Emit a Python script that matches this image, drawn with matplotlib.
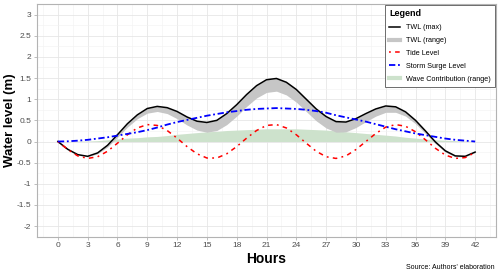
import matplotlib
matplotlib.use('Agg')
import matplotlib.pyplot as plt
from matplotlib.lines import Line2D
import numpy as np

plt.rcParams['font.family'] = ['Liberation Sans', 'DejaVu Sans']

# hourly values (m)
hours = list(range(0, 43))
tide = [0.00, -0.19, -0.34, -0.40, -0.36, -0.23, -0.04, 0.16, 0.32, 0.40,
        0.38, 0.26, 0.08, -0.12, -0.29, -0.39, -0.39, -0.29, -0.12, 0.08,
        0.26, 0.38, 0.40, 0.32, 0.16, -0.04, -0.23, -0.36, -0.40, -0.34,
        -0.19, 0.00, 0.19, 0.34, 0.40, 0.36, 0.23, 0.04, -0.16, -0.32,
        -0.40, -0.38, -0.26]
surge = [0.00, 0.005, 0.02, 0.04, 0.07, 0.10, 0.14, 0.18, 0.22, 0.27,
         0.33, 0.40, 0.46, 0.51, 0.56, 0.61, 0.65, 0.69, 0.72, 0.75,
         0.77, 0.78, 0.79, 0.78, 0.77, 0.75, 0.72, 0.68, 0.62, 0.57,
         0.52, 0.47, 0.41, 0.35, 0.29, 0.24, 0.19, 0.15, 0.11, 0.07,
         0.04, 0.02, 0.00]
wave_max = [0.00, 0.00, 0.01, 0.01, 0.02, 0.04, 0.06, 0.08, 0.09, 0.11,
            0.12, 0.14, 0.17, 0.19, 0.21, 0.23, 0.24, 0.26, 0.27, 0.28,
            0.29, 0.30, 0.30, 0.30, 0.30, 0.29, 0.28, 0.27, 0.25, 0.23,
            0.21, 0.19, 0.17, 0.15, 0.13, 0.10, 0.08, 0.06, 0.04, 0.03,
            0.02, 0.01, 0.01]
wave_min = [0.0] * 43

x_ticks = list(range(0, 43, 3))
y_ticks = [-2, -1.5, -1, -0.5, 0, 0.5, 1, 1.5, 2, 2.5, 3]
y_labels = ['-2', '-1.5', '-1', '-0.5', '0', '0.5', '1', '1.5', '2', '2.5', '3']

t = np.array(hours)
base = np.array(tide) + np.array(surge)
twl_min = base + np.array(wave_min)
twl_max = base + np.array(wave_max)

fig = plt.figure(figsize=(5, 2.77), dpi=100)
ax = fig.add_axes([0.074, 0.1455, 0.918, 0.84])

red_dash = (1.2, 2.8, 3, 2.8)
blue_dash = (3.5, 1.5, 1, 1.5)

ax.fill_between(t, wave_min, wave_max, color='#cde2cc', lw=0, zorder=2)
ax.fill_between(t, twl_min, twl_max, color='#c6c6c6', lw=0, zorder=3)
ax.plot(t, twl_max, color='black', lw=1.1, zorder=4)
ax.plot(t, tide, color='red', lw=1.1, dashes=red_dash, zorder=5)
ax.plot(t, surge, color='blue', lw=1.3, dashes=blue_dash, zorder=5)

ax.set_xlim(-2.1, 44.1)
ax.set_ylim(-2.25, 3.25)
ax.set_xticks(x_ticks)
ax.set_yticks(y_ticks)
ax.set_yticklabels(y_labels)
ax.set_xticks(np.arange(-1.5, 44, 1.5), minor=True)
ax.set_yticks(np.arange(-2.25, 3.3, 0.25), minor=True)
ax.grid(which='major', color='#e6e6e6', lw=0.6, zorder=0)
ax.grid(which='minor', color='#f2f2f2', lw=0.4, zorder=0)
ax.set_axisbelow(True)
ax.tick_params(which='major', length=2.5, width=0.6, color='#b3b3b3',
               labelsize=6, labelcolor='#4d4d4d', pad=1.5)
ax.tick_params(which='minor', length=0)
for s in ax.spines.values():
    s.set_color('#b3b3b3')
    s.set_linewidth(0.8)

ax.set_xlabel('Hours', fontsize=10, fontweight='bold', labelpad=2)
ax.set_ylabel('Water level (m)', fontsize=9.5, fontweight='bold')
ax.yaxis.set_label_coords(-0.046, 0.5)

handles = [
    Line2D([], [], color='black', lw=1.1),
    Line2D([], [], color='#c6c6c6', lw=3),
    Line2D([], [], color='red', lw=1.1, dashes=red_dash),
    Line2D([], [], color='blue', lw=1.3, dashes=blue_dash),
    Line2D([], [], color='#cde2cc', lw=3),
]
labels = ['TWL (max)', 'TWL (range)', 'Tide Level', 'Storm Surge Level',
          'Wave Contribution (range)']
leg = ax.legend(handles, labels, loc='upper right', bbox_to_anchor=(1.0, 1.0),
                title='Legend', fontsize=5.2, title_fontsize=6.5,
                handlelength=1.5, handletextpad=0.8, labelspacing=0.8,
                borderpad=0.6, borderaxespad=0.15, fancybox=False,
                edgecolor='#555555', framealpha=1)
leg.get_title().set_fontweight('bold')
leg._legend_box.align = 'left'
leg.get_frame().set_linewidth(0.6)

fig.text(0.99, 0.02, "Source: Authors' elaboration", ha='right', va='bottom',
         fontsize=5)

fig.savefig('out.png', dpi=100)
